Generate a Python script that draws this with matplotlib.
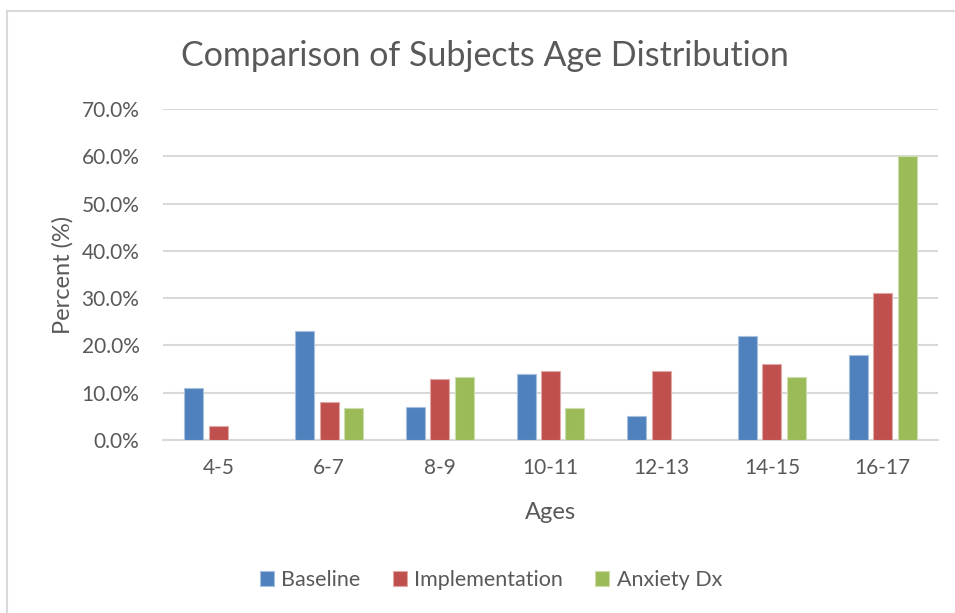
import numpy as np
import matplotlib
matplotlib.use("Agg")
import matplotlib.pyplot as plt
from matplotlib.ticker import PercentFormatter
from matplotlib.lines import Line2D

# age groups and percentages
ages = ["4-5", "6-7", "8-9", "10-11", "12-13", "14-15", "16-17"]
baseline = [11.0, 23.0, 7.0, 14.0, 5.0, 22.0, 18.0]
implementation = [3.0, 8.0, 13.0, 14.5, 14.5, 16.0, 31.0]
anxiety_dx = [0.0, 6.7, 13.3, 6.7, 0.0, 13.3, 60.0]

series_names = ["Baseline", "Implementation", "Anxiety Dx"]
colors = ["#4F81BD", "#C0504D", "#9BBB59"]
edges = ["#A7C0DE", "#E0A8A6", "#CDDDAC"]

plt.rcParams['font.family'] = ['Lato', 'DejaVu Sans']
text_color = "#595959"
grid_color = "#d9d9d9"

fig = plt.figure(figsize=(9.55, 6.13), dpi=100)
ax = fig.add_axes([163 / 955, 1 - 440 / 613, 775 / 955, 331 / 613])

x = np.arange(len(ages))
width = 0.172
step = 0.221
for i, (vals, name) in enumerate(zip([baseline, implementation, anxiety_dx], series_names)):
    ax.bar(x + (i - 1) * step, vals, width, color=colors[i], edgecolor=edges[i],
           linewidth=0.8, label=name, zorder=3)

ax.set_xlim(-0.5, len(ages) - 0.5)
ax.set_ylim(0, 70)
ax.set_yticks(np.arange(0, 71, 10))
ax.yaxis.set_major_formatter(PercentFormatter(xmax=100, decimals=1))
ax.set_xticks(x)
ax.set_xticklabels(ages)
ax.grid(axis='y', color=grid_color, linewidth=1.5, zorder=0)
ax.tick_params(length=0, labelsize=15, labelcolor=text_color)
ax.tick_params(axis='x', pad=13)
ax.tick_params(axis='y', pad=17)
for side in ['top', 'right', 'left']:
    ax.spines[side].set_visible(False)
ax.spines['bottom'].set_color(grid_color)
ax.spines['bottom'].set_linewidth(1.5)

ax.set_xlabel("Ages", fontsize=17, color=text_color, labelpad=17)
ax.set_ylabel("Percent (%)", fontsize=17, color=text_color, labelpad=6)

fig.text(485 / 955, 1 - 56 / 613, "Comparison of Subjects Age Distribution",
         ha='center', va='center', fontsize=24.5, color=text_color)

leg = fig.legend(loc='center', bbox_to_anchor=(491 / 955, 1 - 580 / 613), ncol=3,
                 frameon=False, fontsize=15.5, handlelength=0.65, handleheight=0.65,
                 columnspacing=1.5, handletextpad=0.35)
for t in leg.get_texts():
    t.set_color(text_color)

# chart border (cropped at right and bottom)
fig.add_artist(Line2D([6.5 / 955, 6.5 / 955], [0, 1 - 10.5 / 613], color=grid_color, linewidth=1.5))
fig.add_artist(Line2D([6.5 / 955, 1], [1 - 10.5 / 613, 1 - 10.5 / 613], color=grid_color, linewidth=1.5))

fig.savefig("out.png", dpi=100)
